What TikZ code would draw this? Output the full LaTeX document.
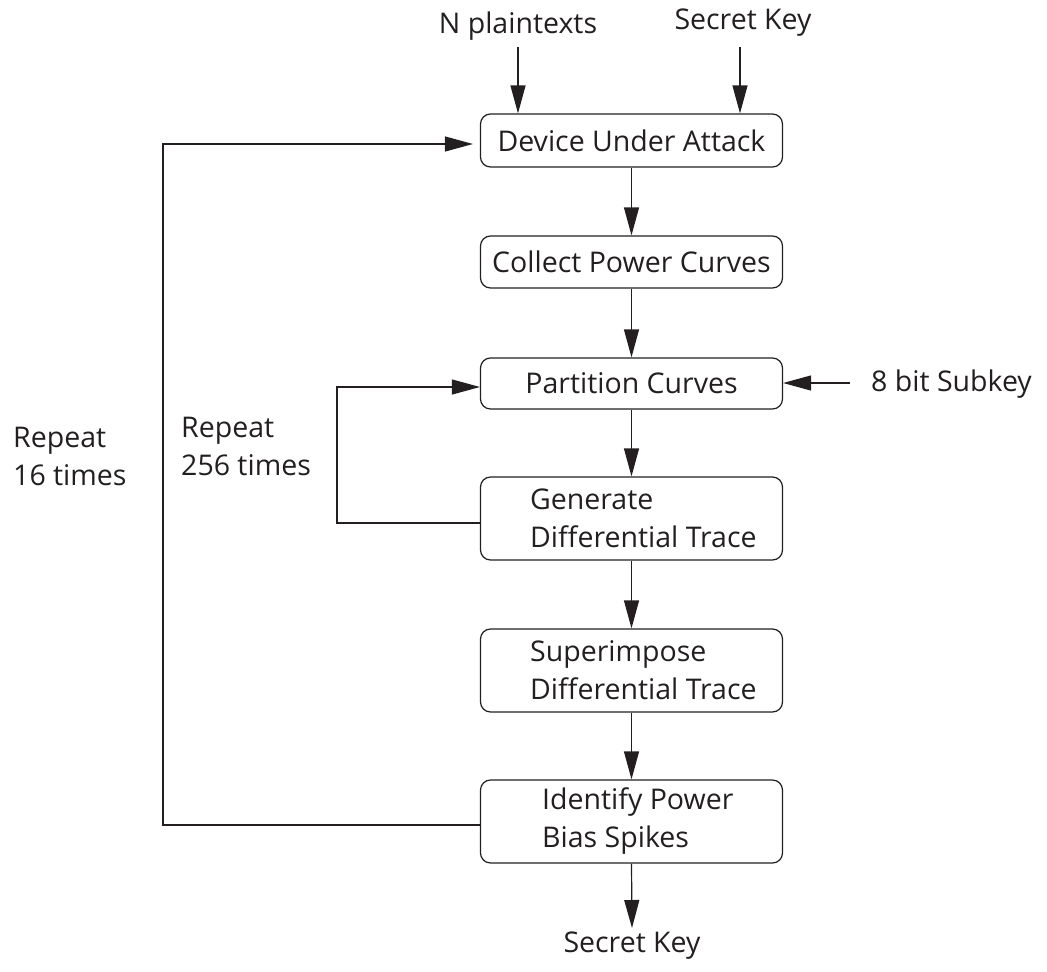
\documentclass[tikz,border=0pt]{standalone}
\usepackage{fontspec}
\setmainfont{Open Sans}
\usetikzlibrary{arrows.meta}
\definecolor{ink}{HTML}{231F20}
\begin{document}
\begin{tikzpicture}[x=1pt,y=-1pt,
  box/.style={draw=ink, line width=1.2pt, rounded corners=10pt,
    minimum width=302pt, inner sep=0pt},
  lbl/.style={text=ink, inner sep=0pt, font=\fontsize{28.5}{38}\selectfont},
  boxtext/.style={lbl, anchor=west, align=left},
  flow/.style={draw=ink, line width=1.2pt,
    -{Triangle[length=28pt,width=15pt]}}]
\useasboundingbox (0,0) rectangle (1047,972);

% processing stages
\node[box, minimum height=53pt] (b1) at (631.5,140.5) {};
\node[lbl] (b1t) at (b1) {Device Under Attack};
\node[box, minimum height=52pt] (b2) at (631.5,262) {};
\node[lbl] (b2t) at (b2) {Collect Power Curves};
\node[box, minimum height=51pt] (b3) at (631.5,383.5) {};
\node[lbl] (b3t) at (b3) {Partition Curves};
\node[box, minimum height=83pt] (b4) at (631.5,518.5) {};
\node[boxtext] (b4t) at (530,518.5) {Generate\\Differential Trace};
\node[box, minimum height=83pt] (b5) at (631.5,670.5) {};
\node[boxtext] (b5t) at (530,670.5) {Superimpose\\Differential Trace};
\node[box, minimum height=83pt] (b6) at (631.5,821.5) {};
\node[boxtext] (b6t) at (542,821.5) {Identify Power\\Bias Spikes};

% inputs and output
\node[lbl] (pt) at (518,26) {N plaintexts};
\node[lbl] (sk) at (743,23) {Secret Key};
\node[lbl, anchor=west] (sub) at (871,384) {8 bit Subkey};
\node[lbl] (out) at (632,946) {Secret Key};

% loop labels
\node[boxtext] (r16) at (13,456) {Repeat\\16 times};
\node[boxtext] (r256) at (181,446) {Repeat\\256 times};

% arrow start points and loop corners
\coordinate (ptA) at (518,47);
\coordinate (skA) at (740,47);
\coordinate (subA) at (850,383);
\coordinate (outA) at (632,928);
\coordinate (innerX) at (337,0);
\coordinate (outerX) at (163,0);

% main flow
\draw[flow] (ptA) -- (ptA |- b1.north);
\draw[flow] (skA) -- (skA |- b1.north);
\draw[flow] (b1) -- (b2);
\draw[flow] (b2) -- (b3);
\draw[flow] (subA) -- (subA -| b3.east);
\draw[flow] (b3) -- (b4);
\draw[flow] (b4) -- (b5);
\draw[flow] (b5) -- (b6);
\draw[flow] (b6.south) -- (outA);

% inner loop: 256 subkey guesses
\draw[flow] ([yshift=-4.5pt]b4.west) -- ([yshift=-4.5pt]b4.west -| innerX)
  |- ([yshift=-3.5pt]b3.west);

% outer loop: 16 key bytes
\draw[flow, shorten >=7pt] ([yshift=-3.5pt]b6.west) -- ([yshift=-3.5pt]b6.west -| outerX)
  |- ([yshift=-3.5pt]b1.west);
\end{tikzpicture}
\end{document}
